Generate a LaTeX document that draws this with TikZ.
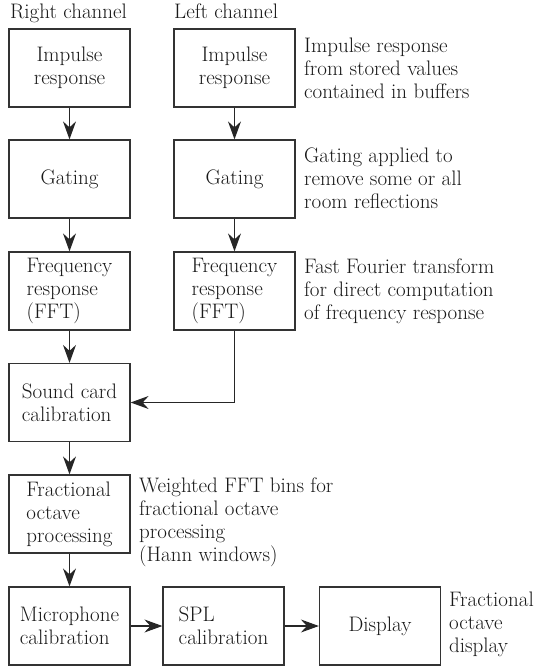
\documentclass[tikz,border=0pt]{standalone}
\usetikzlibrary{arrows.meta}
\newcommand\fs{\fontsize{21}{23}\selectfont}
\begin{document}
\begin{tikzpicture}[x=1pt,y=-1pt,
  box/.style={draw=black!80, line width=1.2pt, minimum width=121pt, minimum height=78pt, inner sep=2pt, align=center, font=\fs, text=black!90},
  lbox/.style={box, align=left},
  note/.style={anchor=north west, inner sep=0pt, align=left, font=\fs, text=black!90},
  head/.style={anchor=base west, inner sep=0pt, font=\fs, text=black!90},
  arr/.style={-{Stealth[length=18pt,width=13pt,inset=6pt]}, line width=1.1pt, draw=black!85}]
\useasboundingbox (0,0) rectangle (537,667);
% column headers
\node[head] (hr) at (10,18) {Right channel};
\node[head] (hl) at (174,18) {Left channel};
% right channel
\node[box] (r1) at (69.5,68) {Impulse\\response};
\node[box] (r2) at (69.5,179) {Gating};
\node[lbox] (r3) at (69.5,291) {Frequency\\response\\(FFT)};
% left channel
\node[box] (l1) at (234.5,68) {Impulse\\response};
\node[box] (l2) at (234.5,179) {Gating};
\node[lbox] (l3) at (234.5,291) {Frequency\\response\\(FFT)};
% common path
\node[lbox] (sc) at (69.5,402.5) {Sound card\\calibration};
\node[lbox] (fo) at (69.5,514) {Fractional\\octave\\processing};
\node[lbox] (mic) at (69.5,626) {Microphone\\calibration};
\node[lbox] (spl) at (223.5,626) {SPL\\calibration};
\node[box] (disp) at (380,626) {Display};
% notes
\node[note] (n1) at (304,38) {Impulse response\\from stored values\\contained in buffers};
\node[note] (n2) at (304,148) {Gating applied to\\remove some or all\\room reflections};
\node[note] (n3) at (304,259) {Fast Fourier transform\\for direct computation\\of frequency response};
\node[note] (n4) at (139,478) {Weighted FFT bins for\\fractional octave\\processing\\(Hann windows)};
\node[note] (n5) at (449,592) {Fractional\\octave\\display};
% connectors
\draw[arr] (r1) -- (r2);
\draw[arr] (r2) -- (r3);
\draw[arr] (r3) -- (sc);
\draw[arr] (l1) -- (l2);
\draw[arr] (l2) -- (l3);
\draw[arr] (l3.south) |- (sc.east);
\draw[arr] (sc) -- (fo);
\draw[arr] (fo) -- (mic);
\draw[arr] (mic) -- (spl);
\draw[arr] (spl) -- (disp);
\end{tikzpicture}
\end{document}
